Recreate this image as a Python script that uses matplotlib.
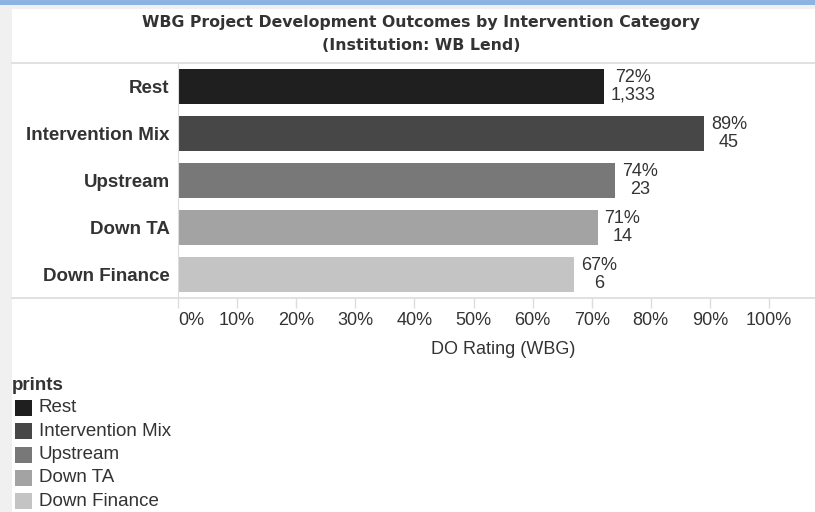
import matplotlib.pyplot as plt
from matplotlib.patches import Rectangle
from matplotlib.lines import Line2D

# DO rating share and project counts per intervention category
categories = ['Rest', 'Intervention Mix', 'Upstream', 'Down TA', 'Down Finance']
do_rating = [0.72, 0.89, 0.74, 0.71, 0.67]
n_projects = [1333, 45, 23, 14, 6]
colors = ['#1f1f1f', '#474747', '#787878', '#a3a3a3', '#c4c4c4']
xticks = [0.0, 0.1, 0.2, 0.3, 0.4, 0.5, 0.6, 0.7, 0.8, 0.9, 1.0]

W, H = 815, 512
FONT = 'Liberation Sans'
TXT = '#333333'
GRID = '#dcdcdc'

fig = plt.figure(figsize=(W / 100, H / 100), dpi=100, facecolor='#f0f0f0')

def fx(px):
    return px / W

def fy(py):
    return 1 - py / H

# page chrome: blue strip on top and white panel (kept behind the axes)
fig.patches.append(Rectangle((0, fy(5)), 1, 5 / H, transform=fig.transFigure,
                             facecolor='#8db3e2', edgecolor='none', zorder=-2))
fig.patches.append(Rectangle((fx(12), 0), 1, fy(9), transform=fig.transFigure,
                             facecolor='white', edgecolor='none', zorder=-2))

fig.text(fx(421), fy(22), 'WBG Project Development Outcomes by Intervention Category',
         ha='center', va='center', fontsize=11.3, fontweight='bold', color=TXT,
         family='DejaVu Sans')
fig.text(fx(421), fy(45), '(Institution: WB Lend)',
         ha='center', va='center', fontsize=11.3, fontweight='bold', color=TXT,
         family='DejaVu Sans')

# plot area: 0% at x=178, 100% at x=769, rows between y=63 and y=298
left, right, top, bottom = 178, 815, 63, 298
ax = fig.add_axes([fx(left), fy(bottom), fx(right - left), (bottom - top) / H])
ax.set_zorder(1)
ax.set_facecolor('none')
ax.set_xlim(0, (right - left) / (769 - left))
ax.set_ylim(len(categories) - 0.5, -0.5)

ypos = list(range(len(categories)))
ax.barh(ypos, do_rating, height=0.75, color=colors, edgecolor='none', zorder=2)

for y, v, n in zip(ypos, do_rating, n_projects):
    ax.annotate(f'{v:.0%}\n{n:,}', xy=(v, y), xytext=(5, 0), textcoords='offset points',
                ha='left', va='center', multialignment='center', linespacing=1.05,
                fontsize=13, family=FONT, color=TXT)

ax.set_yticks(ypos)
ax.set_yticklabels(categories, fontsize=13.5, fontweight='bold', family=FONT, color=TXT)
ax.tick_params(axis='y', length=0, pad=6)

ax.set_xticks(xticks)
ax.set_xticklabels([f'{t:.0%}' for t in xticks], fontsize=13, family=FONT, color=TXT)
ax.get_xticklabels()[0].set_horizontalalignment('left')
ax.tick_params(axis='x', length=7, width=1, color=GRID, pad=3)
ax.set_xlabel('DO Rating (WBG)', fontsize=13, family=FONT, color=TXT)
ax.xaxis.set_label_coords(0.51, -0.185)

for side in ['top', 'right', 'bottom']:
    ax.spines[side].set_visible(False)
ax.spines['left'].set_color(GRID)

# full-width rules above and below the rows
for py in (top, bottom):
    fig.lines.append(Line2D([fx(12), 1], [fy(py), fy(py)], transform=fig.transFigure,
                            color=GRID, linewidth=1.2))

# color legend
fig.text(fx(12), fy(386), 'prints', ha='left', va='center', fontsize=13.5,
         fontweight='bold', family=FONT, color=TXT)
for i, (cat, col) in enumerate(zip(categories, colors)):
    cy = 408 + i * 23.3
    fig.patches.append(Rectangle((fx(15), fy(cy + 8)), 17 / W, 16 / H,
                                 transform=fig.transFigure, facecolor=col,
                                 edgecolor='none'))
    fig.text(fx(39), fy(cy), cat, ha='left', va='center', fontsize=13.5,
             family=FONT, color=TXT)

fig.savefig('out.png', dpi=100, facecolor=fig.get_facecolor())
